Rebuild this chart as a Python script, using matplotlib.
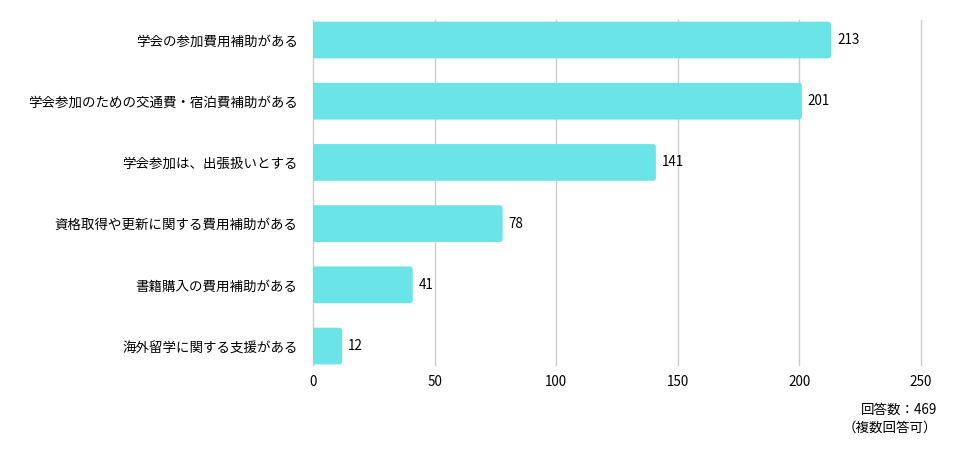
import matplotlib
matplotlib.use("Agg")
import matplotlib.pyplot as plt
from matplotlib.patches import FancyBboxPatch

plt.rcParams['font.family'] = ['Noto Sans CJK JP', 'DejaVu Sans']

categories = ["学会の参加費用補助がある",
              "学会参加のための交通費・宿泊費補助がある",
              "学会参加は、出張扱いとする",
              "資格取得や更新に関する費用補助がある",
              "書籍購入の費用補助がある",
              "海外留学に関する支援がある"]
values = [213, 201, 141, 78, 41, 12]
xticks = [0, 50, 100, 150, 200, 250]
note_lines = ["回答数：469", "（複数回答可）"]

bar_color = "#6be4e8"
fs = 9.7

fig = plt.figure(figsize=(9.76, 4.59), dpi=100)
ax = fig.add_axes([313/976, 1-365/459, (921-313)/976, (365-20)/459])
ax.set_xlim(0, 250)
n = len(categories)
ax.set_ylim(n - 1 + 0.31, -0.327)

bh = 0.6
px_x = 608/250
px_y = 61.2
rad_px = 3
pad_x = rad_px/px_x
for i, v in enumerate(values):
    p = FancyBboxPatch((-5, i - bh/2), v + 5, bh,
                       boxstyle=f"round,pad=0,rounding_size={pad_x}",
                       mutation_aspect=(px_x/px_y),
                       facecolor=bar_color, edgecolor='none', zorder=3)
    ax.add_patch(p)
    ax.text(v + 6/px_x, i, str(v), va='center', ha='left', fontsize=fs, color='#000000', zorder=4)

ax.set_yticks(range(n))
ax.set_yticklabels(categories, fontsize=fs, color='#000000')
ax.set_xticks(xticks)
ax.set_xticklabels([str(t) for t in xticks], fontsize=fs, color='#000000')
ax.tick_params(axis='both', length=0)
ax.tick_params(axis='y', pad=11)
ax.tick_params(axis='x', pad=7)
for s in ax.spines.values():
    s.set_visible(False)
ax.xaxis.grid(True, color='#cccccc', linewidth=1)
for gl in ax.get_xgridlines():
    gl.set_clip_on(False)
ax.set_axisbelow(True)

fig.text(937/976, 1-410/459, note_lines[0], ha='right', va='center', fontsize=fs, color='#000000')
fig.text(937/976, 1-428/459, note_lines[1], ha='right', va='center', fontsize=fs, color='#000000')

fig.savefig("out.png", dpi=100)
